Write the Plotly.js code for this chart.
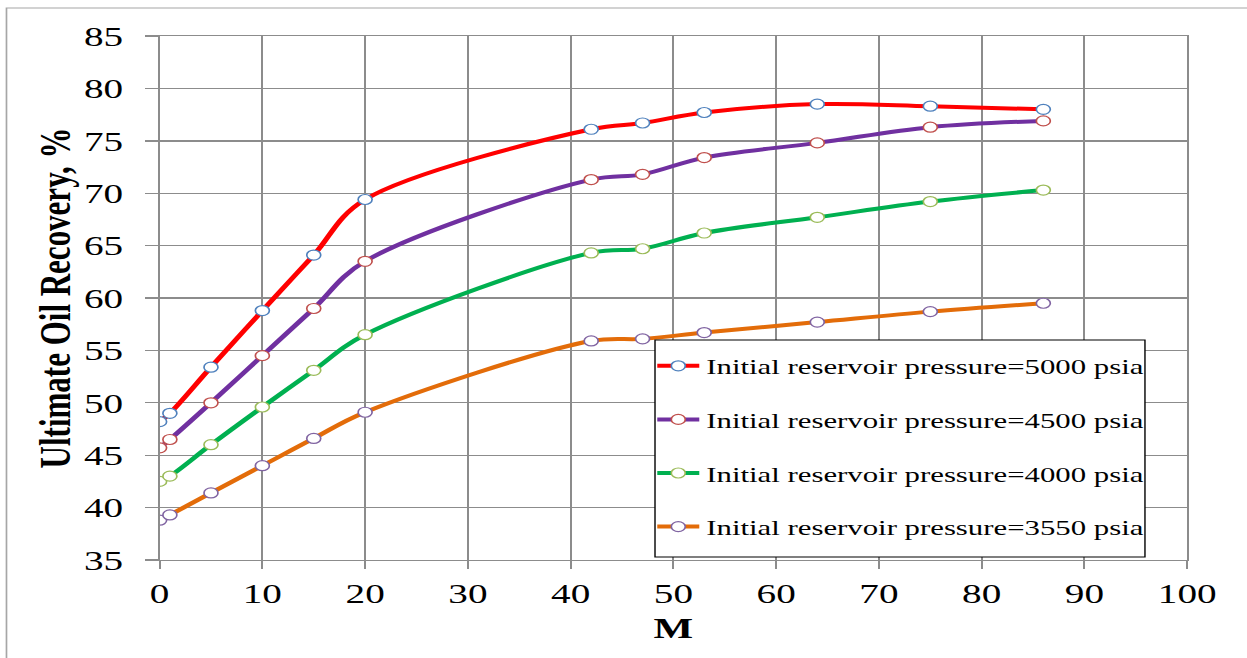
<!DOCTYPE html>
<html><head><meta charset="utf-8">
<script src="https://cdn.plot.ly/plotly-3.0.1.min.js"></script>
<style>
html,body{margin:0;padding:0;background:#fff;overflow:hidden;}
#wrap{width:1247px;height:658px;overflow:hidden;position:relative;}
#chart{width:891px;height:658px;transform:scale(1.4,1);transform-origin:0 0;}
</style></head><body>
<div id="wrap"><div id="chart"></div></div>
<script>
const mValues = [0, 1, 5, 10, 15, 20, 42, 47, 53, 64, 75, 86];
const rec5000 = [48.2, 49.0, 53.4, 58.8, 64.1, 69.4, 76.1, 76.7, 77.7, 78.5, 78.3, 78.0];
const rec4500 = [45.7, 46.5, 50.0, 54.5, 59.0, 63.5, 71.3, 71.8, 73.4, 74.8, 76.3, 76.9];
const rec4000 = [42.5, 43.0, 46.0, 49.6, 53.1, 56.5, 64.3, 64.7, 66.2, 67.7, 69.2, 70.3];
const rec3550 = [38.8, 39.3, 41.4, 44.0, 46.6, 49.1, 55.9, 56.1, 56.7, 57.7, 58.7, 59.5];
const seriesNames = [
  'Initial reservoir pressure=5000 psia',
  'Initial reservoir pressure=4500 psia',
  'Initial reservoir pressure=4000 psia',
  'Initial reservoir pressure=3550 psia'
];
const xTickVals = [0, 10, 20, 30, 40, 50, 60, 70, 80, 90, 100];
const yTickVals = [35, 40, 45, 50, 55, 60, 65, 70, 75, 80, 85];

const serif = '"Liberation Serif", "Times New Roman", serif';
const lineColors = ['#ff0000', '#7030a0', '#00b050', '#e36c09'];
const markerColors = ['#4f81bd', '#c0504d', '#9bbb59', '#8064a2'];
const allY = [rec5000, rec4500, rec4000, rec3550];

const traces = allY.map((ys, i) => ({
  x: mValues, y: ys, name: seriesNames[i], type: 'scatter', mode: 'lines+markers',
  legendgroup: 'g' + i,
  line: {color: lineColors[i], width: 4, shape: 'spline', smoothing: 1},
  marker: {symbol: 'circle', size: 10, color: '#ffffff', line: {color: markerColors[i], width: 1.2}}
}));

const gridC = '#8c8c8c';
const layout = {
  width: 891, height: 658,
  margin: {l: 114, r: 43, t: 36, b: 98},
  paper_bgcolor: '#ffffff', plot_bgcolor: '#ffffff',
  font: {family: serif, color: '#000000'},
  showlegend: true,
  legend: {
    x: 0.4775, y: 0.4103, xanchor: 'left', yanchor: 'top',
    borderwidth: 0, bgcolor: 'rgba(0,0,0,0)',
    font: {size: 22, family: serif, color: '#000000'},
    tracegroupgap: 22, traceorder: 'grouped'
  },
  xaxis: {
    range: [0, 100], tickvals: xTickVals, ticktext: xTickVals.map(String),
    showgrid: true, gridcolor: gridC, gridwidth: 1.4,
    showline: true, linecolor: gridC, linewidth: 1.4, mirror: true,
    ticks: 'outside', ticklen: 8, tickcolor: gridC, tickwidth: 1.4,
    tickfont: {size: 28, family: serif, color: '#000000'},
    zeroline: false,
    title: {text: '<b>M</b>', font: {size: 30, family: serif, color: '#000000'}, standoff: 9}
  },
  yaxis: {
    range: [35, 85], tickvals: yTickVals, ticktext: yTickVals.map(String),
    showgrid: true, gridcolor: gridC, gridwidth: 1.4,
    showline: true, linecolor: gridC, linewidth: 1.4, mirror: true,
    ticks: 'outside', ticklen: 9, tickcolor: gridC, tickwidth: 1.4,
    ticklabelstandoff: 10,
    tickfont: {size: 28, family: serif, color: '#000000'},
    zeroline: false,
    title: {text: '<b>Ultimate Oil Recovery, %</b>', font: {size: 31, family: serif, color: '#000000'}, standoff: 0}
  },
  shapes: [{
    type: 'rect', xref: 'paper', yref: 'paper',
    x0: -0.149, x1: 1.3, y0: -0.4, y1: 1.0534,
    line: {color: '#a6a6a6', width: 1.2}, fillcolor: 'rgba(0,0,0,0)', layer: 'below'
  }, {
    type: 'rect', xref: 'paper', yref: 'paper',
    x0: 0.4821, x1: 0.9589, y0: 0.0057, y1: 0.4198,
    line: {color: '#000000', width: 1}, fillcolor: '#ffffff', layer: 'above'
  }]
};

Plotly.newPlot('chart', traces, layout, {displayModeBar: false, responsive: false, staticPlot: true});
</script>
</body></html>
